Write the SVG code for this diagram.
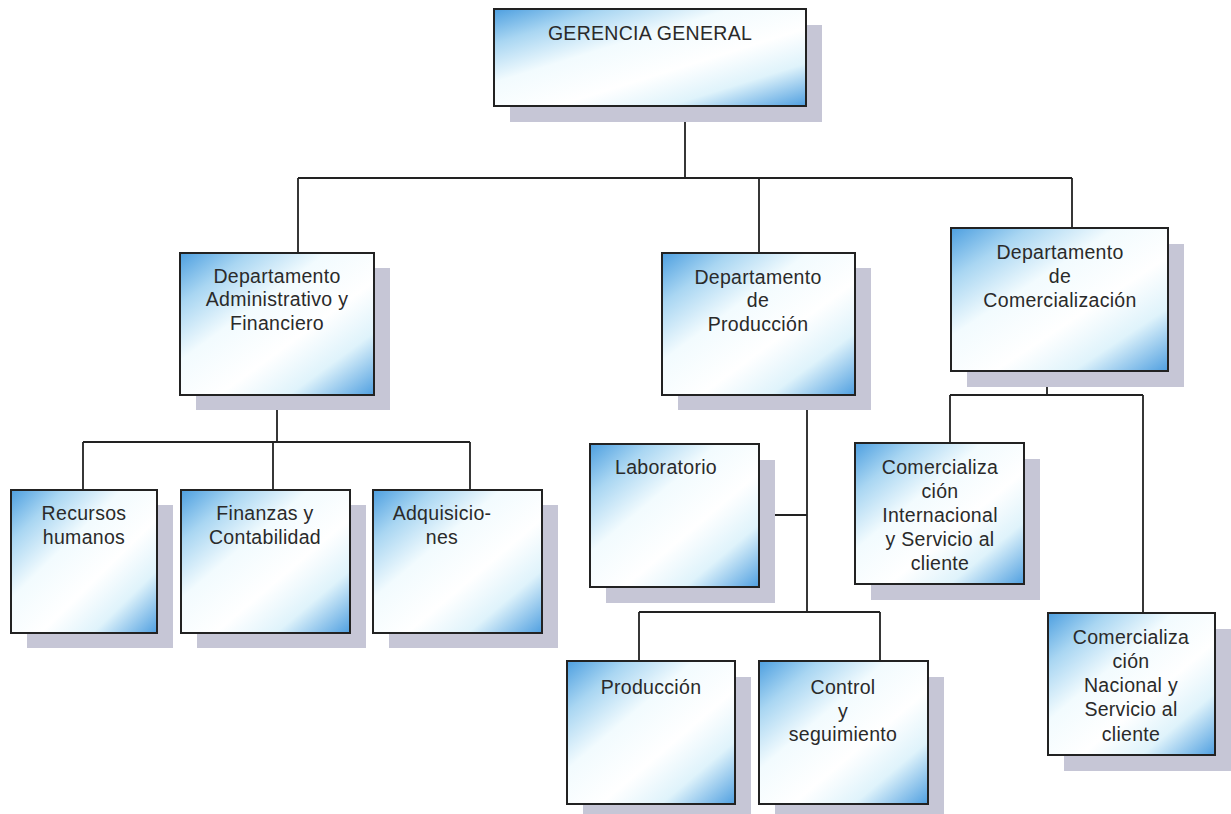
<svg xmlns="http://www.w3.org/2000/svg" width="1231" height="814" viewBox="0 0 1231 814">
  <defs>
    <linearGradient id="boxFill" x1="0" y1="0" x2="1" y2="1">
      <stop offset="0" stop-color="#4d9fe0"/>
      <stop offset="0.18" stop-color="#a9d6f2"/>
      <stop offset="0.38" stop-color="#f2fbfe"/>
      <stop offset="0.6" stop-color="#ffffff"/>
      <stop offset="0.78" stop-color="#dff3fb"/>
      <stop offset="1" stop-color="#4f9fe0"/>
    </linearGradient>
    <style>
      .shadow { fill: #c6c6d6; }
      .box { fill: url(#boxFill); stroke: #222; stroke-width: 2; }
      .label { font-family: "Liberation Sans", Arial, sans-serif; font-size: 19.5px; letter-spacing: 0.3px; fill: #2a2a2a; text-anchor: middle; }
      .wire { fill: none; stroke: #222; stroke-width: 1.8; }
    </style>
  </defs>
  <rect width="1231" height="814" fill="#ffffff"/>

  <!-- connectors -->
  <g id="connectors">
    <path class="wire" d="M685 106 V178 M298 178 H1072 M298 178 V253 M759 178 V253 M1072 178 V228"/>
    <path class="wire" d="M277 395 V442 M83 442 H470 M83 442 V490 M273 442 V490 M470 442 V490"/>
    <path class="wire" d="M807 395 V612 M759 515 H807 M639 612 H880 M639 612 V661 M880 612 V661"/>
    <path class="wire" d="M1047 371 V395 M950 395 H1143 M950 395 V443 M1143 395 V613"/>
  </g>

  <g id="gerencia-general">
    <rect class="shadow" x="510" y="25" width="312" height="97"/>
    <rect class="box" x="494" y="9" width="312" height="97"/>
    <text class="label" x="650" y="40">GERENCIA GENERAL</text>
  </g>

  <g id="dep-administrativo">
    <rect class="shadow" x="196" y="268" width="194" height="142"/>
    <rect class="box" x="180" y="253" width="194" height="142"/>
    <text class="label" x="277" y="283">Departamento</text>
    <text class="label" x="277" y="306">Administrativo y</text>
    <text class="label" x="277" y="330">Financiero</text>
  </g>

  <g id="dep-produccion">
    <rect class="shadow" x="678" y="268" width="193" height="142"/>
    <rect class="box" x="662" y="253" width="193" height="142"/>
    <text class="label" x="758" y="284">Departamento</text>
    <text class="label" x="758" y="307">de</text>
    <text class="label" x="758" y="331">Producción</text>
  </g>

  <g id="dep-comercializacion">
    <rect class="shadow" x="967" y="244" width="217" height="143"/>
    <rect class="box" x="951" y="228" width="217" height="143"/>
    <text class="label" x="1060" y="259">Departamento</text>
    <text class="label" x="1060" y="283">de</text>
    <text class="label" x="1060" y="307">Comercialización</text>
  </g>

  <g id="recursos-humanos">
    <rect class="shadow" x="27" y="505" width="146" height="143"/>
    <rect class="box" x="11" y="490" width="146" height="143"/>
    <text class="label" x="84" y="520">Recursos</text>
    <text class="label" x="84" y="544">humanos</text>
  </g>

  <g id="finanzas">
    <rect class="shadow" x="197" y="505" width="169" height="143"/>
    <rect class="box" x="181" y="490" width="169" height="143"/>
    <text class="label" x="265" y="520">Finanzas y</text>
    <text class="label" x="265" y="544">Contabilidad</text>
  </g>

  <g id="adquisiciones">
    <rect class="shadow" x="389" y="505" width="169" height="143"/>
    <rect class="box" x="373" y="490" width="169" height="143"/>
    <text class="label" x="442" y="520">Adquisicio-</text>
    <text class="label" x="442" y="544">nes</text>
  </g>

  <g id="laboratorio">
    <rect class="shadow" x="606" y="460" width="169" height="143"/>
    <rect class="box" x="590" y="444" width="169" height="143"/>
    <text class="label" x="666" y="474">Laboratorio</text>
  </g>

  <g id="produccion">
    <rect class="shadow" x="583" y="677" width="168" height="137"/>
    <rect class="box" x="567" y="661" width="168" height="143"/>
    <text class="label" x="651" y="694">Producción</text>
  </g>

  <g id="control-seguimiento">
    <rect class="shadow" x="775" y="677" width="169" height="137"/>
    <rect class="box" x="759" y="661" width="169" height="143"/>
    <text class="label" x="843" y="694">Control</text>
    <text class="label" x="843" y="718">y</text>
    <text class="label" x="843" y="741">seguimiento</text>
  </g>

  <g id="comercializacion-internacional">
    <rect class="shadow" x="871" y="459" width="169" height="141"/>
    <rect class="box" x="855" y="443" width="169" height="141"/>
    <text class="label" x="940" y="474">Comercializa</text>
    <text class="label" x="940" y="498">ción</text>
    <text class="label" x="940" y="522">Internacional</text>
    <text class="label" x="940" y="546">y Servicio al</text>
    <text class="label" x="940" y="570">cliente</text>
  </g>

  <g id="comercializacion-nacional">
    <rect class="shadow" x="1064" y="629" width="167" height="142"/>
    <rect class="box" x="1048" y="613" width="167" height="142"/>
    <text class="label" x="1131" y="644">Comercializa</text>
    <text class="label" x="1131" y="668">ción</text>
    <text class="label" x="1131" y="692">Nacional y</text>
    <text class="label" x="1131" y="716">Servicio al</text>
    <text class="label" x="1131" y="741">cliente</text>
  </g>
</svg>
